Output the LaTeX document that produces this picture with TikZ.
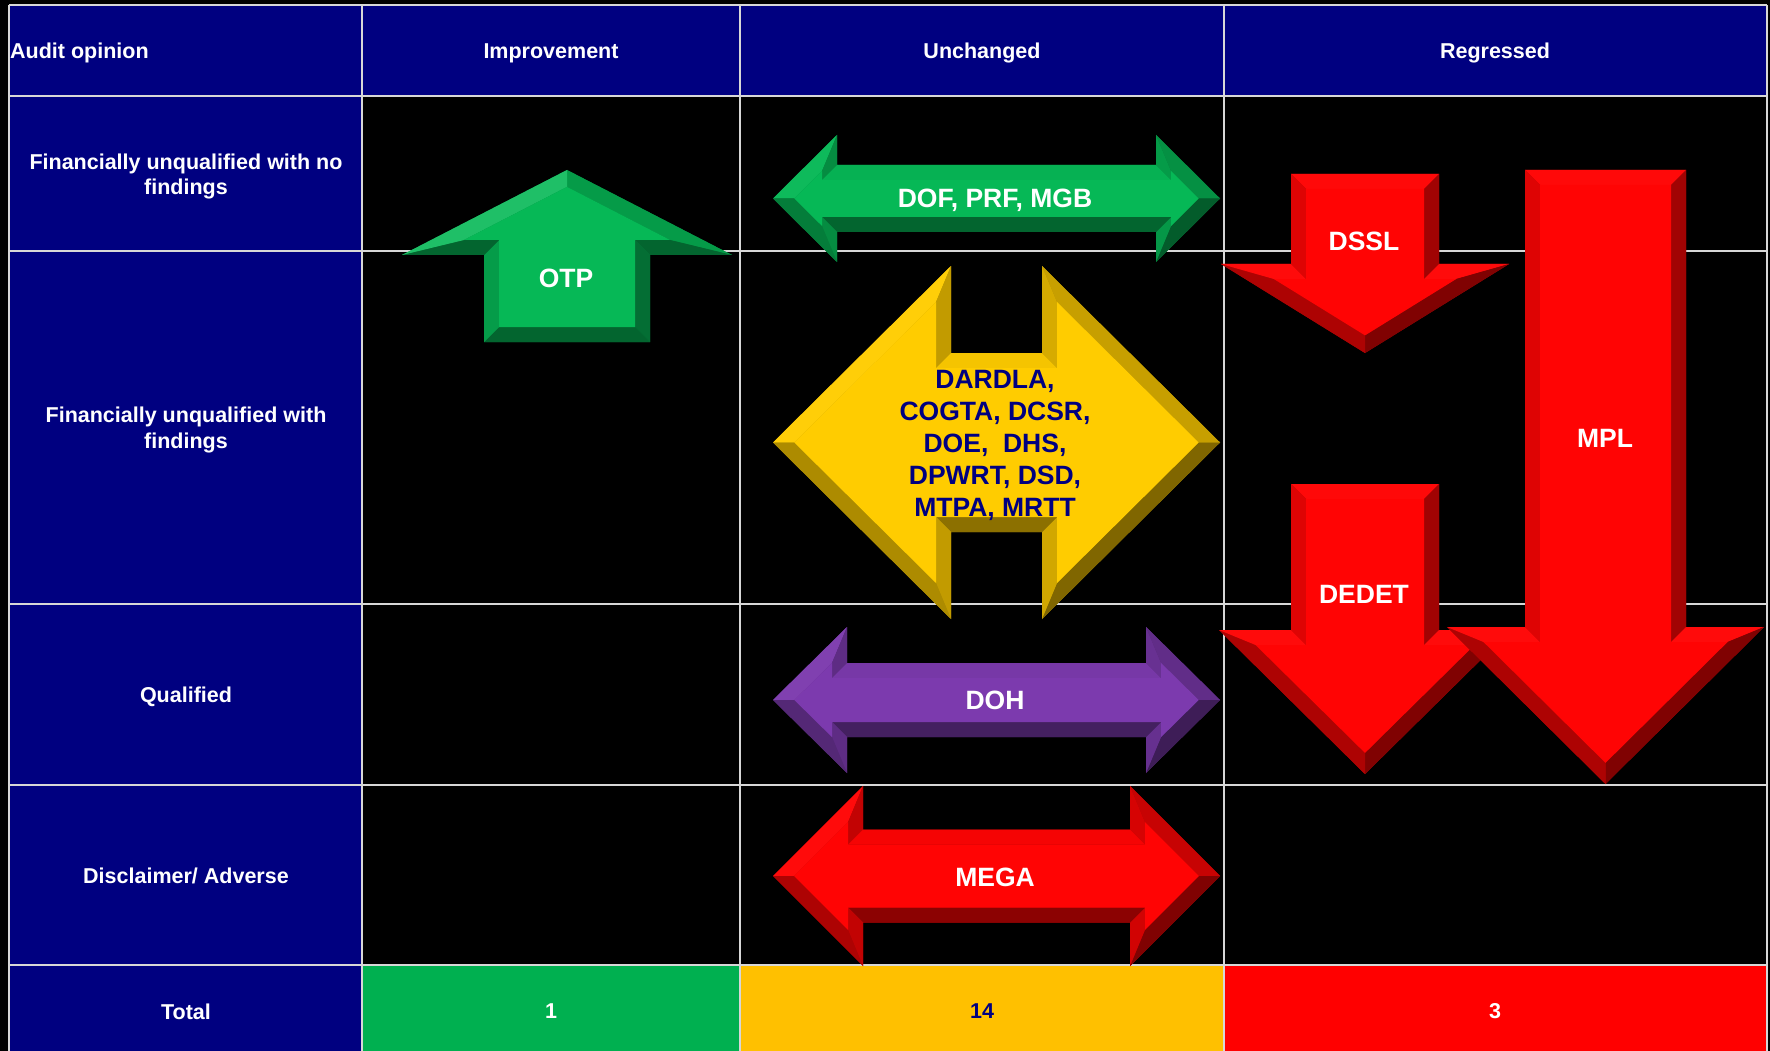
\documentclass[tikz,border=0pt]{standalone}
\usepackage{fontspec}
\setmainfont{Liberation Sans}
\definecolor{navy}{RGB}{0,0,128}
\definecolor{garr}{RGB}{6,184,86}
\definecolor{yarr}{RGB}{255,204,0}
\definecolor{rarr}{RGB}{255,4,4}
\definecolor{parr}{RGB}{124,58,174}
\definecolor{tgreen}{RGB}{0,176,80}
\definecolor{tyellow}{RGB}{255,192,0}
\definecolor{tred}{RGB}{255,0,0}
\definecolor{gridc}{RGB}{215,215,215}
\def\qbv{15}
\newcommand\bq[5]{\fill[#1] (#2) -- (#3) -- (#4) -- (#5) -- cycle;}
% up arrow: cx ya yw W S yb colour
\newcommand\UpArr[7]{%
 \pgfmathsetmacro\qcx{#1}\pgfmathsetmacro\qya{#2}\pgfmathsetmacro\qyw{#3}%
 \pgfmathsetmacro\qW{#4}\pgfmathsetmacro\qS{#5}\pgfmathsetmacro\qyb{#6}%
 \pgfmathsetmacro\qH{\qyw-\qya}%
 \pgfmathsetmacro\qd{\qbv*sqrt(1+(\qH/\qW)^2)}%
 \pgfmathsetmacro\qWi{\qW-(\qbv+\qd)*\qW/\qH}%
 \pgfmathsetmacro\qSi{\qS-\qbv}%
 \coordinate (o1) at (\qcx,\qya); \coordinate (o2) at (\qcx+\qW,\qyw);
 \coordinate (o3) at (\qcx+\qS,\qyw); \coordinate (o4) at (\qcx+\qS,\qyb);
 \coordinate (o5) at (\qcx-\qS,\qyb); \coordinate (o6) at (\qcx-\qS,\qyw);
 \coordinate (o7) at (\qcx-\qW,\qyw);
 \coordinate (i1) at (\qcx,\qya+\qd); \coordinate (i2) at (\qcx+\qWi,\qyw-\qbv);
 \coordinate (i3) at (\qcx+\qSi,\qyw-\qbv); \coordinate (i4) at (\qcx+\qSi,\qyb-\qbv);
 \coordinate (i5) at (\qcx-\qSi,\qyb-\qbv); \coordinate (i6) at (\qcx-\qSi,\qyw-\qbv);
 \coordinate (i7) at (\qcx-\qWi,\qyw-\qbv);
 \fill[#7!70!black] (o1)--(o2)--(o3)--(o4)--(o5)--(o6)--(o7)--cycle;
 \bq{#7!84!black}{o1}{o2}{i2}{i1}
 \bq{#7!55!black}{o2}{o3}{i3}{i2}
 \bq{#7!60!black}{o3}{o4}{i4}{i3}
 \bq{#7!55!black}{o4}{o5}{i5}{i4}
 \bq{#7!85!black}{o5}{o6}{i6}{i5}
 \bq{#7!55!black}{o6}{o7}{i7}{i6}
 \bq{#7!90!white}{o7}{o1}{i1}{i7}
 \fill[#7] (i1)--(i2)--(i3)--(i4)--(i5)--(i6)--(i7)--cycle;
}
% down arrow: cx yt yw W S yp colour
\newcommand\DnArr[7]{%
 \pgfmathsetmacro\qcx{#1}\pgfmathsetmacro\qyt{#2}\pgfmathsetmacro\qyw{#3}%
 \pgfmathsetmacro\qW{#4}\pgfmathsetmacro\qS{#5}\pgfmathsetmacro\qyp{#6}%
 \pgfmathsetmacro\qH{\qyp-\qyw}%
 \pgfmathsetmacro\qd{\qbv*sqrt(1+(\qH/\qW)^2)}%
 \pgfmathsetmacro\qWi{\qW-(\qbv+\qd)*\qW/\qH}%
 \pgfmathsetmacro\qSi{\qS-\qbv}%
 \coordinate (o1) at (\qcx-\qS,\qyt); \coordinate (o2) at (\qcx+\qS,\qyt);
 \coordinate (o3) at (\qcx+\qS,\qyw); \coordinate (o4) at (\qcx+\qW,\qyw);
 \coordinate (o5) at (\qcx,\qyp); \coordinate (o6) at (\qcx-\qW,\qyw);
 \coordinate (o7) at (\qcx-\qS,\qyw);
 \coordinate (i1) at (\qcx-\qSi,\qyt+\qbv); \coordinate (i2) at (\qcx+\qSi,\qyt+\qbv);
 \coordinate (i3) at (\qcx+\qSi,\qyw+\qbv); \coordinate (i4) at (\qcx+\qWi,\qyw+\qbv);
 \coordinate (i5) at (\qcx,\qyp-\qd); \coordinate (i6) at (\qcx-\qWi,\qyw+\qbv);
 \coordinate (i7) at (\qcx-\qSi,\qyw+\qbv);
 \fill[#7!70!black] (o1)--(o2)--(o3)--(o4)--(o5)--(o6)--(o7)--cycle;
 \bq{#7!98!white}{o1}{o2}{i2}{i1}
 \bq{#7!63!black}{o2}{o3}{i3}{i2}
 \bq{#7!97!white}{o3}{o4}{i4}{i3}
 \bq{#7!50!black}{o4}{o5}{i5}{i4}
 \bq{#7!68!black}{o5}{o6}{i6}{i5}
 \bq{#7!97!white}{o6}{o7}{i7}{i6}
 \bq{#7!87!black}{o7}{o1}{i1}{i7}
 \fill[#7] (i1)--(i2)--(i3)--(i4)--(i5)--(i6)--(i7)--cycle;
}
% double horizontal arrow: xl xhl xhr xr yc Hh Sh colour
\newcommand\DblArr[8]{%
 \pgfmathsetmacro\qxl{#1}\pgfmathsetmacro\qxhl{#2}\pgfmathsetmacro\qxhr{#3}%
 \pgfmathsetmacro\qxr{#4}\pgfmathsetmacro\qyc{#5}\pgfmathsetmacro\qHh{#6}%
 \pgfmathsetmacro\qSh{#7}%
 \pgfmathsetmacro\qL{\qxhl-\qxl}%
 \pgfmathsetmacro\qdx{\qbv*sqrt(1+(\qL/\qHh)^2)}%
 \pgfmathsetmacro\qHi{\qHh-(\qbv+\qdx)*\qHh/\qL}%
 \coordinate (o1) at (\qxl,\qyc); \coordinate (o2) at (\qxhl,\qyc-\qHh);
 \coordinate (o3) at (\qxhl,\qyc-\qSh); \coordinate (o4) at (\qxhr,\qyc-\qSh);
 \coordinate (o5) at (\qxhr,\qyc-\qHh); \coordinate (o6) at (\qxr,\qyc);
 \coordinate (o7) at (\qxhr,\qyc+\qHh); \coordinate (o8) at (\qxhr,\qyc+\qSh);
 \coordinate (o9) at (\qxhl,\qyc+\qSh); \coordinate (o10) at (\qxhl,\qyc+\qHh);
 \coordinate (i1) at (\qxl+\qdx,\qyc); \coordinate (i2) at (\qxhl-\qbv,\qyc-\qHi);
 \coordinate (i3) at (\qxhl-\qbv,\qyc-\qSh+\qbv); \coordinate (i4) at (\qxhr+\qbv,\qyc-\qSh+\qbv);
 \coordinate (i5) at (\qxhr+\qbv,\qyc-\qHi); \coordinate (i6) at (\qxr-\qdx,\qyc);
 \coordinate (i7) at (\qxhr+\qbv,\qyc+\qHi); \coordinate (i8) at (\qxhr+\qbv,\qyc+\qSh-\qbv);
 \coordinate (i9) at (\qxhl-\qbv,\qyc+\qSh-\qbv); \coordinate (i10) at (\qxhl-\qbv,\qyc+\qHi);
 \fill[#8!70!black] (o1)--(o2)--(o3)--(o4)--(o5)--(o6)--(o7)--(o8)--(o9)--(o10)--cycle;
 \bq{#8!97!white}{o1}{o2}{i2}{i1}
 \bq{#8!76!black}{o2}{o3}{i3}{i2}
 \bq{#8!96!black}{o3}{o4}{i4}{i3}
 \bq{#8!84!black}{o4}{o5}{i5}{i4}
 \bq{#8!78!black}{o5}{o6}{i6}{i5}
 \bq{#8!50!black}{o6}{o7}{i7}{i6}
 \bq{#8!82!black}{o7}{o8}{i8}{i7}
 \bq{#8!55!black}{o8}{o9}{i9}{i8}
 \bq{#8!76!black}{o9}{o10}{i10}{i9}
 \bq{#8!68!black}{o10}{o1}{i1}{i10}
 \fill[#8] (i1)--(i2)--(i3)--(i4)--(i5)--(i6)--(i7)--(i8)--(i9)--(i10)--cycle;
}
\begin{document}
\begin{tikzpicture}[x=1pt,y=-1pt,
  lbl/.style={text=white,inner sep=0pt,align=center,font=\bfseries\fontsize{21.5}{25.5}\selectfont},
  albl/.style={text=white,inner sep=0pt,align=center,font=\bfseries\fontsize{26.5}{32}\selectfont},
  gridline/.style={draw=gridc,line width=1.5pt}]
\fill[black] (0,0) rectangle (1770,1051);
\useasboundingbox (0,0) rectangle (1770,1051);
% cells
\fill[navy] (9,5) rectangle (1767,96);
\fill[navy] (9,96) rectangle (362,1051);
\fill[tgreen] (362,965) rectangle (740,1051);
\fill[tyellow] (740,965) rectangle (1224,1051);
\fill[tred] (1224,965) rectangle (1767,1051);
% grid
\foreach \gx in {9,362,740,1224,1767} {\draw[gridline] (\gx,5) -- (\gx,1051);}
\foreach \gy in {5,96,251,604,785,965} {\draw[gridline] (9,\gy) -- (1767,\gy);}
% arrows
\DblArr{773}{837}{1156}{1220}{198.5}{63.5}{33.5}{garr}
\UpArr{567}{170}{255}{165}{83}{342}{garr}
\DblArr{773}{951}{1042}{1220}{442.5}{176.5}{89.5}{yarr}
\DblArr{773}{847}{1146}{1220}{700}{73}{37}{parr}
\DblArr{773}{863}{1130}{1220}{876}{90}{46.5}{rarr}
\DnArr{1365}{174}{264}{144}{74}{353}{rarr}
\DnArr{1365}{484}{630}{146}{74}{774}{rarr}
\DnArr{1605.5}{170}{627}{158.5}{80.5}{784}{rarr}
% arrow labels
\node[albl] (otp) at (566,278) {OTP};
\node[albl] (dof) at (995,200) {DOF, PRF, MGB};
\node[albl,text=navy] (yel) at (995,445) {DARDLA,\\COGTA, DCSR,\\DOE,~ DHS,\\DPWRT, DSD,\\MTPA, MRTT};
\node[albl] (doh) at (995,700) {DOH};
\node[albl] (mega) at (995,877) {MEGA};
\node[albl] (dssl) at (1364,241) {DSSL};
\node[albl] (dedet) at (1364,594) {DEDET};
\node[albl] (mpl) at (1605,438) {MPL};
% table text
\node[lbl,anchor=west] (hA) at (10,53) {Audit opinion};
\node[lbl] (hI) at (551,53) {Improvement};
\node[lbl] (hU) at (982,53) {Unchanged};
\node[lbl] (hR) at (1495,53) {Regressed};
\node[lbl] (r1) at (186,176.5) {Financially unqualified with no\\findings};
\node[lbl] (r2) at (186,430) {Financially unqualified with\\findings};
\node[lbl] (r3) at (186,696.5) {Qualified};
\node[lbl] (r4) at (186,876) {Disclaimer/ Adverse};
\node[lbl] (r5) at (186,1011.5) {Total};
\node[lbl] (t1) at (551,1011.5) {1};
\node[lbl,text=navy] (t2) at (982,1011.5) {14};
\node[lbl] (t3) at (1495,1011.5) {3};
\end{tikzpicture}
\end{document}
